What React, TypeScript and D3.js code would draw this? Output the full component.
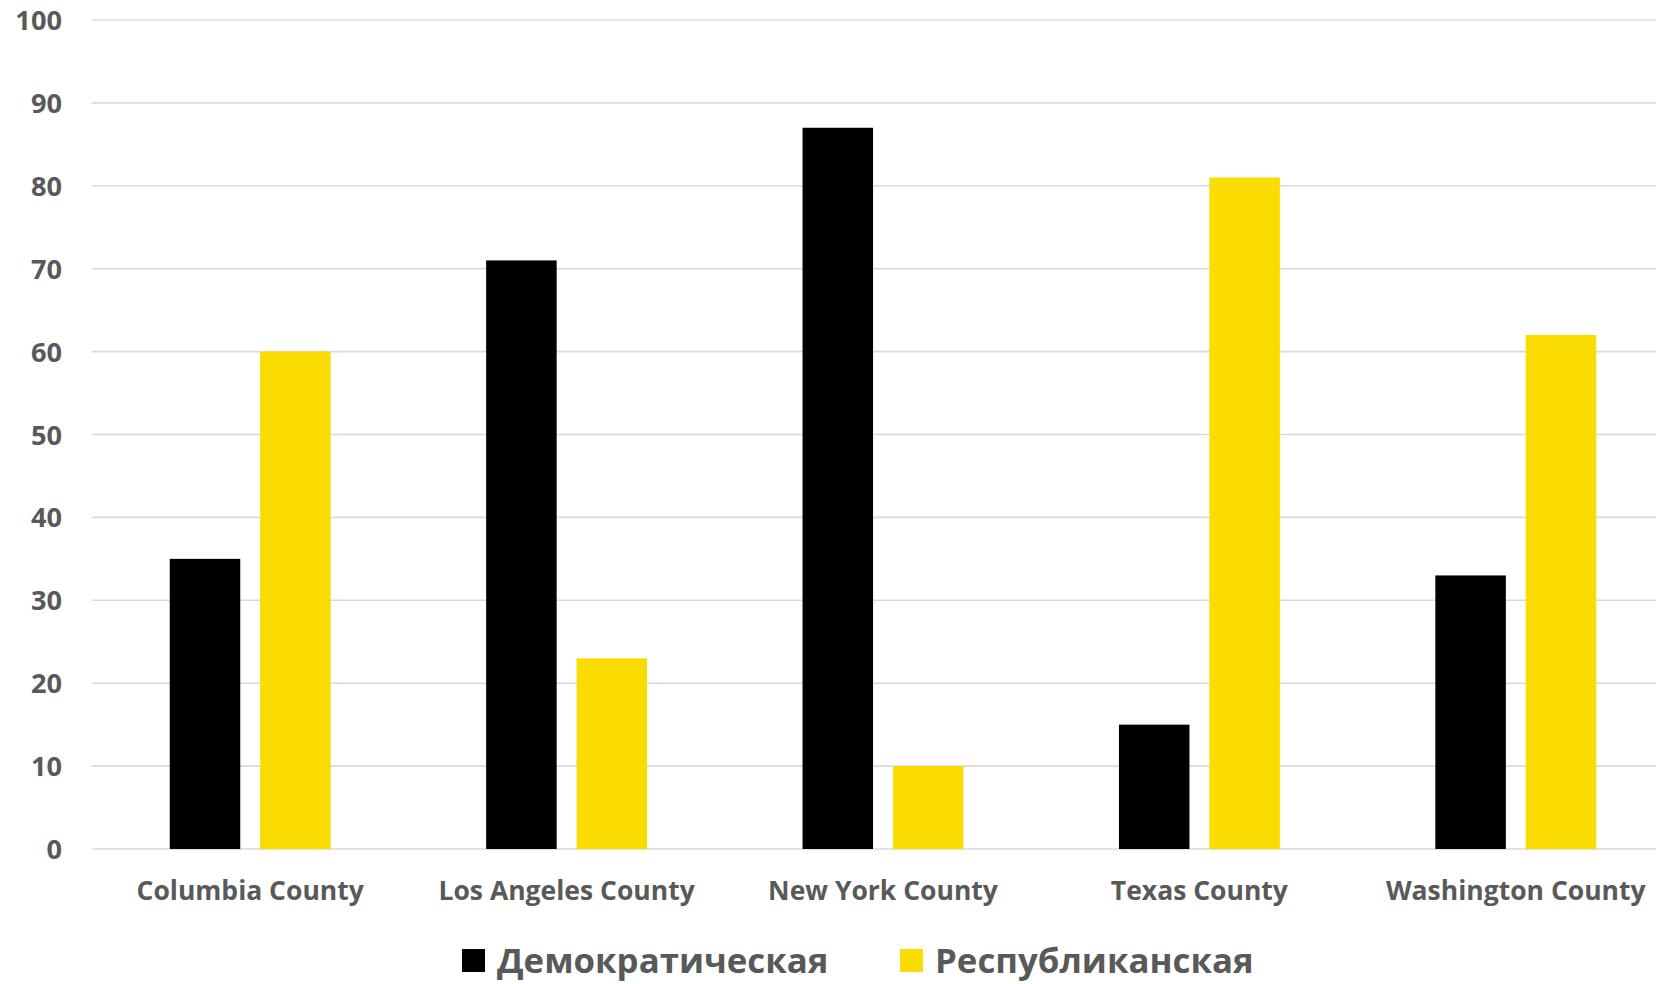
import React from 'react';
import * as d3 from 'd3';

const categories = ['Columbia County', 'Los Angeles County', 'New York County', 'Texas County', 'Washington County'];
const seriesNames = ['Демократическая', 'Республиканская'];
const democratic = [35, 71, 87, 15, 33];
const republican = [60, 23, 10, 81, 62];
const yTicks = [0, 10, 20, 30, 40, 50, 60, 70, 80, 90, 100];

const colors = ['#000000', '#fadc00'];
const textColor = '#595959';
const font = '"Open Sans", "Noto Sans", sans-serif';

const W = 1656;
const H = 984;

const App: React.FC = () => {
  const x0 = d3.scaleBand<string>().domain(categories).range([92, 1674]).padding(0);
  const x1 = d3.scaleBand<string>()
    .domain(seriesNames)
    .range([0, x0.bandwidth()])
    .paddingInner(0.22)
    .paddingOuter(0.86);
  const y = d3.scaleLinear().domain([0, 100]).range([849, 20]);

  const values = [democratic, republican];

  return (
    <svg
      width={W}
      height={H}
      style={{ position: 'absolute', left: 0, top: 0, background: '#fff', overflow: 'hidden' }}
    >
      {/* gridlines */}
      {yTicks.map(t => (
        <line key={`g${t}`} x1={92} x2={W} y1={y(t)} y2={y(t)} stroke="#d9d9d9" strokeWidth={1.6} />
      ))}

      {/* y tick labels */}
      {yTicks.map(t => (
        <text
          key={`t${t}`}
          x={62}
          y={y(t) + 10}
          textAnchor="end"
          fontFamily={font}
          fontWeight="bold"
          fontSize={27.2}
          fill={textColor}
        >
          {t}
        </text>
      ))}

      {/* bars */}
      {categories.map((c, i) => (
        <g key={c} transform={`translate(${x0(c)},0)`}>
          {seriesNames.map((s, j) => (
            <rect
              key={s}
              x={x1(s)}
              y={y(values[j][i])}
              width={x1.bandwidth()}
              height={y(0) - y(values[j][i])}
              fill={colors[j]}
            />
          ))}
        </g>
      ))}

      {/* category labels */}
      {categories.map(c => (
        <text
          key={`c${c}`}
          x={(x0(c) || 0) + x0.bandwidth() / 2}
          y={900}
          textAnchor="middle"
          fontFamily={font}
          fontWeight="bold"
          fontSize={26.5}
          fill={textColor}
        >
          {c}
        </text>
      ))}

      {/* legend */}
      {seriesNames.map((s, j) => {
        const lx = [462, 900][j];
        return (
          <g key={`l${s}`}>
            <rect x={lx} y={949} width={23} height={23} fill={colors[j]} />
            <text
              x={lx + 35}
              y={973}
              fontFamily={font}
              fontWeight="bold"
              fontSize={34.8}
              fill={textColor}
            >
              {s}
            </text>
          </g>
        );
      })}
    </svg>
  );
};

export default App;
